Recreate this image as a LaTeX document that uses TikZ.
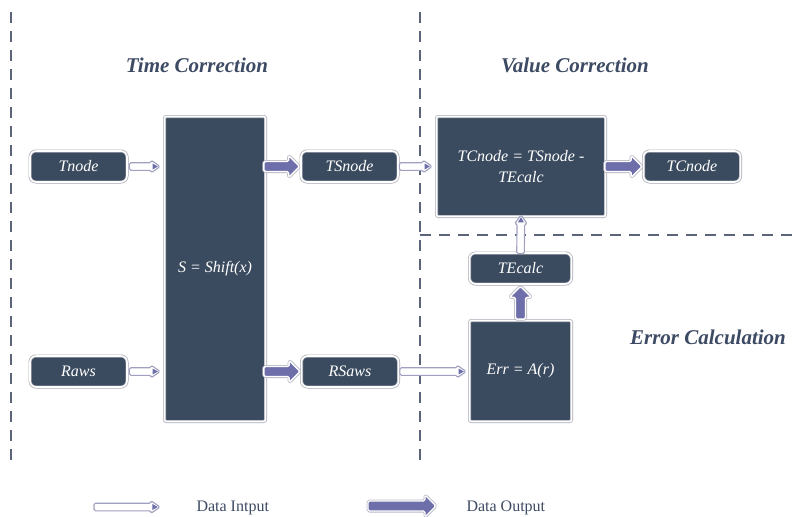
\documentclass[tikz,border=0pt]{standalone}
\usepackage{fontspec}
\setmainfont{Liberation Serif}
\usetikzlibrary{decorations.markings}
\definecolor{boxfill}{HTML}{3B4B5F}
\definecolor{boxline}{HTML}{A8A8B4}
\definecolor{titlec}{HTML}{3D4A63}
\definecolor{dashc}{HTML}{5B6478}
\definecolor{arrowfill}{HTML}{6E6EAA}
\definecolor{thinline}{HTML}{A0A0C0}
\definecolor{thickline}{HTML}{B8B8C8}

\newcommand\mythinarrow{%
  \pgfmathsetlengthmacro\arrlen{\pgfdecoratedpathlength}%
  \draw[thinline, fill=white, line width=1.1pt, line join=round, rounded corners=1.5pt]
    (0,0) -- (-9pt,6.3pt) -- (-9pt,3.8pt) -- (-\arrlen,3.8pt) -- (-\arrlen,-3.8pt)
    -- (-9pt,-3.8pt) -- (-9pt,-6.3pt) -- cycle;
  \fill[arrowfill] (-2.3pt,0) -- (-7.6pt,3pt) -- (-7.6pt,-3pt) -- cycle;}

\newcommand\mythickarrow{%
  \pgfmathsetlengthmacro\arrlen{\pgfdecoratedpathlength}%
  \draw[thickline, line width=3pt, line join=round, rounded corners=1.5pt]
    (0,0) -- (-11pt,11pt) -- (-11pt,5pt) -- (-\arrlen,5pt) -- (-\arrlen,-5pt)
    -- (-11pt,-5pt) -- (-11pt,-11pt) -- cycle;
  \draw[white, fill=arrowfill, line width=1.4pt, line join=round, rounded corners=1.5pt]
    (0,0) -- (-11pt,11pt) -- (-11pt,5pt) -- (-\arrlen,5pt) -- (-\arrlen,-5pt)
    -- (-11pt,-5pt) -- (-11pt,-11pt) -- cycle;}

\tikzset{
  box/.style={fill=boxfill, draw=boxline, double=white, double distance=1.6pt,
    line width=0.7pt, text=white, inner sep=2pt,
    font=\fontsize{16}{21}\selectfont\itshape, align=center},
  smallbox/.style={box, rounded corners=6pt, minimum width=#1, minimum height=31pt},
  bigbox/.style={box, rounded corners=2pt},
  titletext/.style={text=titlec, font=\fontsize{21}{25}\selectfont\bfseries\itshape},
  legendtext/.style={text=titlec, font=\fontsize{16}{19}\selectfont},
  inarrow/.style={postaction={decorate,
    decoration={markings, mark=at position 1 with {\mythinarrow}}}},
  outarrow/.style={postaction={decorate,
    decoration={markings, mark=at position 1 with {\mythickarrow}}}},
  sepline/.style={dashc, line width=1.3pt, dash pattern=on 11pt off 8pt},
}

\begin{document}
\begin{tikzpicture}[x=1pt, y=-1pt]
\useasboundingbox (0,0) rectangle (796,517);

% separators
\draw[sepline] (11,12) -- (11,460);
\draw[sepline] (420,12) -- (420,460);
\draw[sepline] (420,235) -- (796,235);

% titles
\node[titletext] (t1) at (197,65) {Time Correction};
\node[titletext] (t2) at (575,65) {Value Correction};
\node[titletext] (t3) at (708,337) {Error Calculation};

% boxes
\node[smallbox=97pt] (Tnode) at (78.5,166.5) {Tnode};
\node[smallbox=97pt] (Raws) at (78.5,371.5) {Raws};
\node[bigbox, minimum width=101pt, minimum height=305pt] (S) at (215,269) {S = Shift(x)};
\node[smallbox=97pt] (TSnode) at (349.5,166.5) {TSnode};
\node[smallbox=97pt] (RSaws) at (350,371.5) {RSaws};
\node[bigbox, minimum width=169pt, minimum height=100pt] (TC) at (521,166.5) {TCnode = TSnode -\\TEcalc};
\node[smallbox=97pt] (TCnode) at (692,166.5) {TCnode};
\node[smallbox=102pt] (TEcalc) at (520.5,268.5) {TEcalc};
\node[bigbox, minimum width=102pt, minimum height=101pt] (Err) at (520.5,371) {Err = A(r)};

% connectors
\path[inarrow] ([xshift=2pt]Tnode.east) -- ([xshift=-4pt]S.west |- Tnode.east);
\path[inarrow] ([xshift=2pt]Raws.east) -- ([xshift=-4pt]S.west |- Raws.east);
\path[outarrow] ([xshift=-2pt]S.east |- TSnode.west) -- ([xshift=-1pt]TSnode.west);
\path[outarrow] ([xshift=-2pt]S.east |- RSaws.west) -- ([xshift=-1pt]RSaws.west);
\path[inarrow] ([xshift=1pt]TSnode.east) -- ([xshift=-4pt]TC.west |- TSnode.east);
\path[inarrow] ([xshift=1pt]RSaws.east) -- ([xshift=-3pt]Err.west |- RSaws.east);
\path[outarrow] ([xshift=-1pt]TC.east |- TCnode.west) -- ([xshift=-1pt]TCnode.west);
\path[outarrow] ([yshift=1pt]Err.north) -- ([yshift=-2pt]TEcalc.south);
\path[inarrow] ([yshift=-1pt]TEcalc.north) -- ([yshift=2pt]TC.south);

% legend
\coordinate (l1a) at (94,507);
\coordinate (l1b) at (160,507);
\coordinate (l2a) at (368,506);
\coordinate (l2b) at (436,506);
\path[inarrow] (l1a) -- (l1b);
\path[outarrow] (l2a) -- (l2b);
\node[legendtext, anchor=west] (lt1) at (193,508) {Data Intput};
\node[legendtext, anchor=west] (lt2) at (463,508) {Data Output};
\end{tikzpicture}
\end{document}
